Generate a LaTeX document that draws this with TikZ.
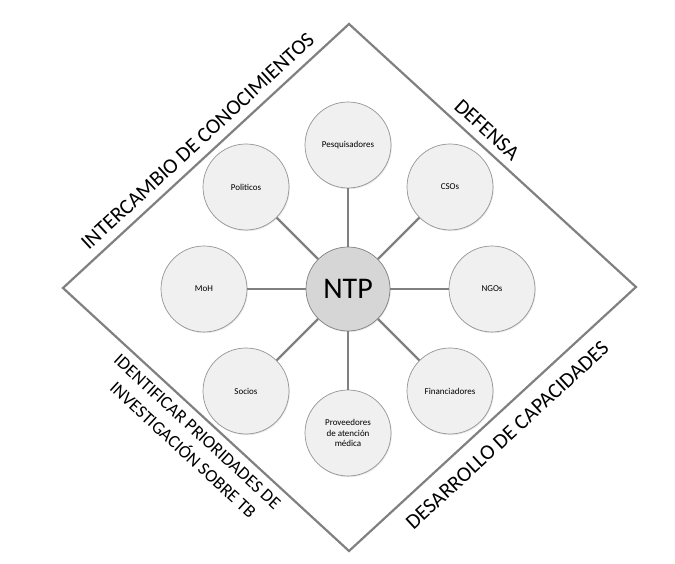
\documentclass[tikz,border=0pt]{standalone}
\usepackage{fontspec}
\setmainfont{Carlito}
\usetikzlibrary{shadows}
\definecolor{edgegray}{HTML}{808080}
\definecolor{ringfill}{HTML}{F0F0F0}
\definecolor{ringdraw}{HTML}{959595}
\definecolor{hubfill}{HTML}{D6D6D6}
\tikzset{
  frameline/.style={draw=edgegray, line width=2.2pt, line join=miter},
  spoke/.style={draw=edgegray, line width=2.3pt},
  member/.style={circle, minimum size=86pt, inner sep=0pt, fill=ringfill, draw=ringdraw, line width=0.7pt,
     drop shadow={opacity=0.18, shadow xshift=0.8pt, shadow yshift=-1.2pt},
     font=\fontsize{9}{10.5}\selectfont, align=center},
  hub/.style={member, minimum size=84pt, fill=hubfill, draw=edgegray, font=\fontsize{30}{34}\selectfont},
  sidelab/.style={sloped, inner sep=0pt, text height=13.7pt, text depth=0pt, font=\fontsize{21.3}{25}\selectfont},
  sidelabsmall/.style={sloped, inner sep=0pt, text height=11.6pt, text depth=0pt, font=\fontsize{18}{22}\selectfont}
}
\begin{document}
\begin{tikzpicture}[x=1pt,y=1pt]
\useasboundingbox (0,0) rectangle (675,564);
\coordinate (T) at (349,540);
\coordinate (R) at (636,277);
\coordinate (B) at (349,13);
\coordinate (L) at (63,276);
\draw[frameline] (T) -- (R) -- (B) -- (L) -- cycle;
\path (L) -- (T) node[sidelab, pos=0.51, above=9.5pt] (k1) {INTERCAMBIO DE CONOCIMIENTOS};
\path (T) -- (R) node[sidelab, pos=0.445, above=8.2pt] (k2) {DEFENSA};
\path (B) -- (R) node[sidelab, pos=0.5, below=14.7pt] (k3) {DESARROLLO DE CAPACIDADES};
\path (L) -- (B) node[sidelabsmall, pos=0.505, below=8.8pt] (k4) {IDENTIFICAR PRIORIDADES DE};
\path (L) -- (B) node[sidelabsmall, pos=0.51, below=32.2pt] (k5) {INVESTIGACIÓN SOBRE TB};

\node[hub] (ntp) at (348,275) {NTP};
\node[member] (pes) at (348,419) {Pesquisadores};
\node[member] (pol) at (246,377) {Politicos};
\node[member] (cso) at (450,377) {CSOs};
\node[member] (moh) at (204,275) {MoH};
\node[member] (ngo) at (492,275) {NGOs};
\node[member] (soc) at (246,173) {Socios};
\node[member] (fin) at (450,173) {Financiadores};
\node[member] (pro) at (348,131) {Proveedores\\de atención\\médica};

\foreach \m in {pes,pol,cso,moh,ngo,soc,fin,pro}
  \draw[spoke] (ntp) -- (\m);
\end{tikzpicture}
\end{document}
